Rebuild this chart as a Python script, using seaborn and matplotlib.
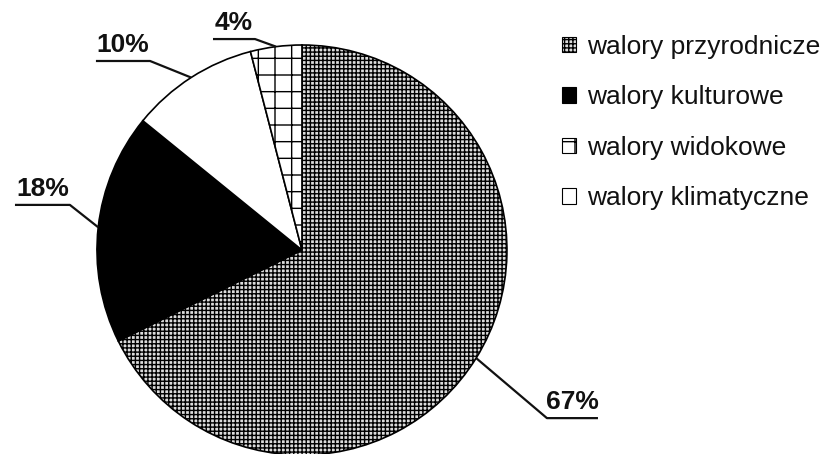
import matplotlib
matplotlib.use("Agg")
import numpy as np
import matplotlib.pyplot as plt
from matplotlib.patches import Patch
import seaborn as sns

# dane z wykresu
kategorie = ["walory przyrodnicze", "walory kulturowe", "walory widokowe", "walory klimatyczne"]
udzialy = [67, 18, 4, 10]
etykiety = ["67%", "18%", "4%", "10%"]
# kolejnosc wycinkow na kole (zgodnie z ruchem wskazowek zegara od gory)
kolejnosc_kola = [0, 1, 3, 2]

# wyglad wycinkow: (kolor wypelnienia, kreskowanie)
style = {
    "walory przyrodnicze": ("#dcdcdc", "++++"),
    "walory kulturowe": ("black", None),
    "walory widokowe": ("white", "+"),
    "walory klimatyczne": ("white", None),
}

# polozenie podpisow: (poczatek podkreslenia x, koniec x, y) w jednostkach promienia
podpisy = {
    "67%": (1.195, 1.444, -0.820),
    "18%": (-1.400, -1.132, 0.220),
    "10%": (-1.005, -0.741, 0.922),
    "4%": (-0.434, -0.229, 1.029),
}

sns.set_theme(style="white")
plt.rcParams["font.family"] = ["Liberation Sans", "DejaVu Sans"]
plt.rcParams["hatch.linewidth"] = 1.0

fig = plt.figure(figsize=(8.29, 4.54), dpi=100)
ax = fig.add_axes([0, 0, 1, 1])

wartosci = [udzialy[i] for i in kolejnosc_kola]
nazwy = [kategorie[i] for i in kolejnosc_kola]
wedges, _ = ax.pie(wartosci, startangle=90, counterclock=False, radius=1,
                   wedgeprops=dict(edgecolor="black", linewidth=1.2))
for w, n in zip(wedges, nazwy):
    fc, h = style[n]
    w.set_facecolor(fc)
    if h:
        w.set_hatch(h)

# podpisy z liniami odniesienia
for w, i in zip(wedges, kolejnosc_kola):
    tekst = etykiety[i]
    x0, x1, y = podpisy[tekst]
    kat = np.deg2rad((w.theta1 + w.theta2) / 2)
    px, py = np.cos(kat), np.sin(kat)
    if abs(x0 - px) < abs(x1 - px):
        xs = [px, x0, x1]
    else:
        xs = [px, x1, x0]
    ax.plot(xs, [py, y, y], color="#111111", lw=1.6, solid_capstyle="butt")
    ax.text((x0 + x1) / 2, y + 0.02, tekst, ha="center", va="bottom",
            fontsize=19, fontweight="bold", color="#111111")

ax.set_xlim(-1.473, 2.571)
ax.set_ylim(-0.995, 1.2195)
ax.set_aspect("auto")
ax.axis("off")

uchwyty = []
for n in kategorie:
    fc, h = style[n]
    uchwyty.append(Patch(facecolor=fc, edgecolor="black", hatch=h, linewidth=0.8))
fig.legend(uchwyty, kategorie, loc="upper left", bbox_to_anchor=(0.665, 0.946),
           frameon=False, fontsize=19, handlelength=0.52, handleheight=0.52,
           handletextpad=0.42, labelspacing=1.0, borderaxespad=0,
           labelcolor="#111111")

fig.savefig("out.png", dpi=100, facecolor="white")
